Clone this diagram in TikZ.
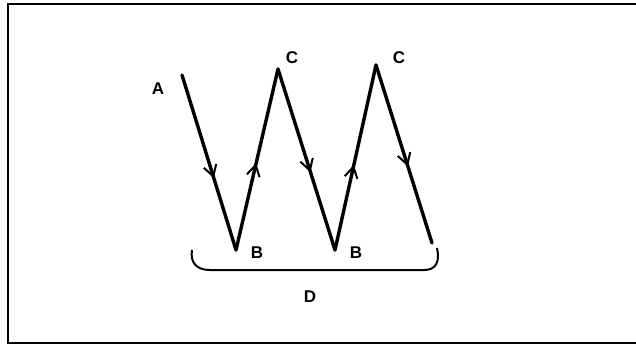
\documentclass[tikz,border=0pt]{standalone}
\usepackage{fontspec}
\setmainfont{Liberation Sans}
\usetikzlibrary{arrows.meta,decorations.markings}
\begin{document}
\begin{tikzpicture}[x=1pt,y=-1pt,
  path/.style={line width=3.4pt,line cap=round,line join=miter},
  midarrow/.style={postaction={decorate},decoration={markings,mark=at position #1 with {\arrow{Straight Barb[length=11pt,width=13pt,line width=2pt]}}}},
  lbl/.style={font=\bfseries\fontsize{17}{17}\selectfont,inner sep=0pt},
  frame/.style={line width=2pt}]
\useasboundingbox (0,0) rectangle (636,346);
\draw[frame] (640,4) -- (8,4) -- (8,343) -- (640,343);
\coordinate (A) at (182,75);
\coordinate (B1) at (236,250);
\coordinate (C1) at (278,69);
\coordinate (B2) at (335,250);
\coordinate (C2) at (376,65);
\coordinate (E) at (432,243);
\draw[path,midarrow=0.59] (A) -- (B1);
\draw[path,midarrow=0.48] (B1) -- (C1);
\draw[path,midarrow=0.57] (C1) -- (B2);
\draw[path,midarrow=0.46] (B2) -- (C2);
\draw[path,midarrow=0.57] (C2) -- (E);
\node[lbl] (la) at (158,89) {A};
\node[lbl] (lc1) at (292,58) {C};
\node[lbl] (lc2) at (399,58) {C};
\node[lbl] (lb1) at (257,253) {B};
\node[lbl] (lb2) at (356,253) {B};
\node[lbl] (ld) at (310,297) {D};
\draw[line width=2pt] (192,250) .. controls (190,262) and (196,270) .. (210,270) -- (424,270) .. controls (436,270) and (440,262) .. (437,248);
\end{tikzpicture}
\end{document}
